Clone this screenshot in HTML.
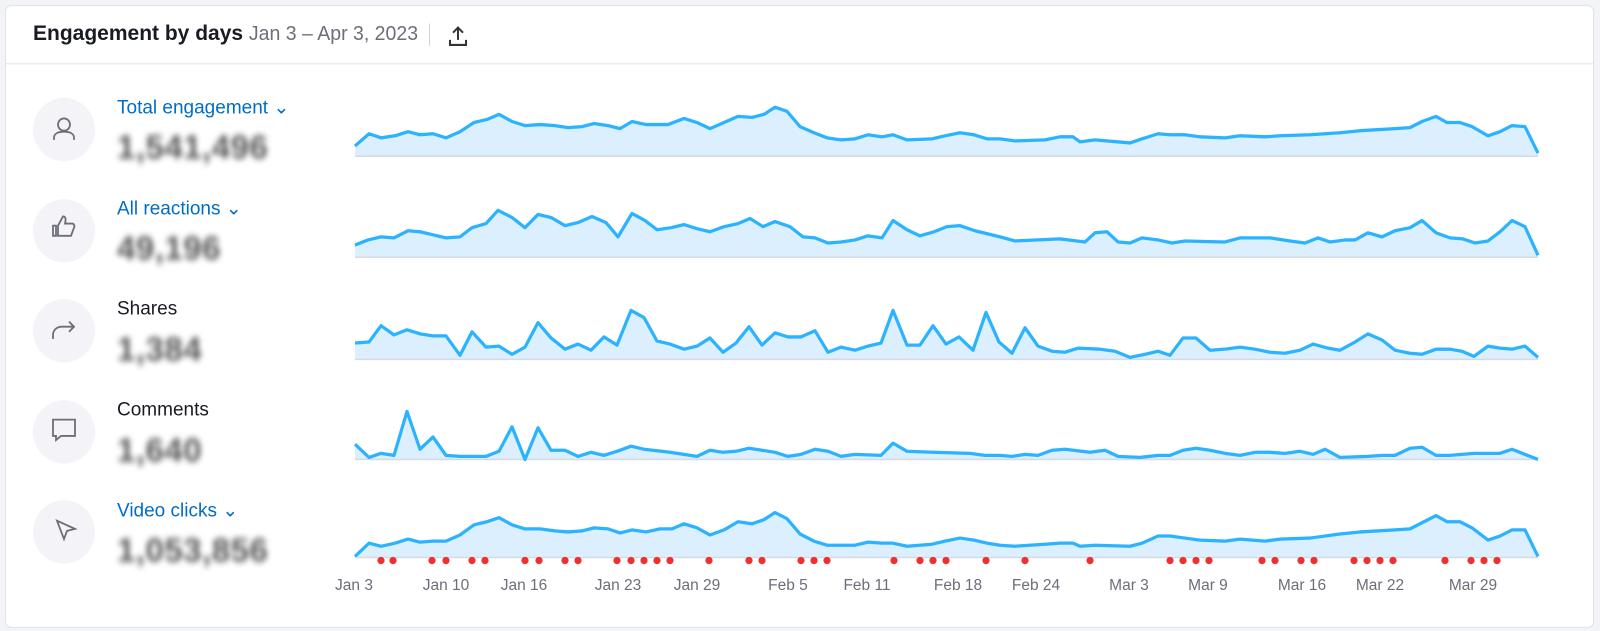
<!DOCTYPE html>
<html><head><meta charset="utf-8"><style>
body{margin:0;background:#f3f4f8;font-family:"Liberation Sans",sans-serif;overflow:hidden}
#w{position:absolute;left:0;top:0;width:1600px;height:618px;transform:scaleY(1.021);transform-origin:0 0}
.card{position:absolute;left:5px;top:5px;width:1587px;height:608px;background:#fff;border:1px solid #e0e1e9;border-radius:6px;}
.hdr{position:absolute;left:0;top:0;width:100%;height:56px;border-bottom:1px solid #e0e1e9;}
.title{position:absolute;left:27px;top:15px;font-size:21px;font-weight:bold;color:#191b23;white-space:nowrap}
.title span{font-weight:normal;color:#6c6e79;font-size:19.5px}
.sep{position:absolute;left:423px;top:17px;width:1px;height:22px;background:#d1d4db}
.circ{position:absolute;left:27px;width:62px;height:62px;border-radius:50%;background:#f4f4f8}
.lab{position:absolute;left:111px;font-size:19px;white-space:nowrap}
.blue{color:#006dca}
.num{position:absolute;left:111px;font-size:33px;font-weight:bold;color:#555;filter:blur(3px);white-space:nowrap;letter-spacing:0.5px}
svg{position:absolute;left:0;top:0}
.ax{font-size:15.5px;fill:#6c6e79}
</style></head><body><div id="w">
<div class="card">
<div class="hdr"><div class="title">Engagement by days <span>Jan 3 – Apr 3, 2023</span></div><div class="sep"></div>
<svg style="left:440px;top:18px" width="24" height="24" viewBox="0 0 24 24"><path d="M12 3v12M7 8l5-5 5 5M4 15v5h16v-5" fill="none" stroke="#333" stroke-width="2"/></svg></div>
<div class="circ" style="top:90px"></div><div class="circ" style="top:189px"></div><div class="circ" style="top:287px"></div><div class="circ" style="top:386px"></div><div class="circ" style="top:484px"></div>
<div class="lab blue" style="top:88px">Total engagement ⌄</div><div class="num" style="top:119px">1,541,496</div>
<div class="lab blue" style="top:187px">All reactions ⌄</div><div class="num" style="top:218px">49,196</div>
<div class="lab" style="top:286px;color:#191b23">Shares</div><div class="num" style="top:317px">1,384</div>
<div class="lab" style="top:385px;color:#191b23">Comments</div><div class="num" style="top:416px">1,640</div>
<div class="lab blue" style="top:483px">Video clicks ⌄</div><div class="num" style="top:514px">1,053,856</div>
</div>
<svg width="1600" height="618" id="s"></svg>
</div>
<script>
const S=[
[153,"355,143 369,131 381,135 395,133 408,129 420,132 433,131 446,135 460,129 474,120 487,117 499,112 512,119 525,123 540,122 555,123 568,125 582,124 594,121 608,123 620,126 632,119 646,122 668,122 684,116 697,120 710,126 724,120 738,114 752,115 764,112 775,105 787,109 800,124 814,130 827,135 841,137 855,136 868,132 882,134 893,132 907,137 932,136 945,133 960,130 974,132 987,136 1000,136 1015,138 1045,137 1060,134 1073,134 1080,139 1095,137 1130,140 1142,136 1158,131 1170,132 1185,132 1200,134 1225,135 1240,133 1265,134 1280,133 1310,132 1340,130 1360,128 1395,126 1410,125 1422,119 1436,114 1447,120 1460,120 1472,124 1488,133 1500,129 1512,123 1525,124 1538,150"],
[252,"355,240 368,235 381,232 394,233 408,226 420,227 433,230 446,233 460,232 472,223 486,219 498,206 512,213 525,223 538,210 551,213 565,221 578,218 592,212 606,218 618,232 632,209 645,216 657,225 671,223 684,220 697,224 710,227 724,222 738,219 750,214 763,222 775,217 790,222 803,232 815,233 828,238 841,237 855,235 868,231 882,233 893,216 907,225 920,231 934,227 947,222 960,221 975,226 1000,232 1015,236 1060,234 1085,237 1095,228 1107,227 1118,237 1130,238 1142,233 1158,235 1172,238 1185,236 1225,237 1240,233 1270,233 1290,236 1305,238 1318,233 1330,237 1345,235 1355,235 1368,228 1382,232 1395,226 1410,223 1422,216 1436,228 1450,233 1463,234 1475,238 1488,236 1500,227 1512,216 1525,222 1538,250"],
[352,"355,336 369,335 381,319 394,328 407,323 420,327 433,329 446,329 460,348 472,325 486,340 499,339 512,347 525,340 538,316 551,331 565,342 578,337 591,343 604,330 617,338 631,304 644,311 657,334 670,337 684,342 697,339 710,331 723,345 736,336 749,320 762,338 775,326 788,330 801,330 815,324 828,345 841,340 855,343 868,339 881,336 893,304 907,338 920,338 933,319 946,337 959,330 973,343 986,306 999,335 1012,346 1025,321 1038,339 1052,344 1065,345 1078,341 1100,342 1115,344 1130,350 1145,347 1158,344 1170,348 1183,331 1196,331 1210,343 1225,342 1240,340 1255,342 1270,345 1285,346 1300,343 1313,337 1328,341 1340,343 1355,335 1368,327 1382,333 1395,343 1410,346 1422,347 1436,342 1450,342 1462,344 1474,349 1488,339 1500,341 1512,342 1525,339 1538,350"],
[450,"355,435 369,448 381,444 394,446 407,403 420,440 433,428 446,446 460,447 486,447 499,442 512,418 525,450 538,419 551,441 565,441 578,447 591,443 604,446 617,442 631,437 644,440 670,443 697,447 710,441 723,443 736,442 749,439 762,441 775,443 788,447 801,445 815,440 828,442 841,447 855,445 881,446 893,434 907,442 933,443 970,444 985,446 1000,446 1012,447 1025,445 1038,446 1052,441 1065,440 1090,443 1105,441 1118,447 1140,448 1158,446 1170,446 1183,441 1196,439 1210,441 1225,444 1240,446 1255,443 1270,443 1285,444 1300,442 1313,445 1325,440 1340,448 1368,447 1382,446 1395,446 1410,439 1422,438 1436,446 1450,446 1474,444 1488,444 1500,444 1512,440 1538,450"],
[546,"355,545 369,532 381,535 395,532 408,528 420,531 433,530 446,530 460,524 474,514 487,511 499,507 512,514 525,518 540,518 555,520 568,521 582,520 594,517 608,518 620,522 632,519 646,521 660,518 672,518 684,513 697,517 710,524 724,519 738,511 752,513 764,509 775,502 787,508 800,523 814,530 827,534 841,534 855,534 868,531 882,532 893,532 907,535 932,533 945,530 960,527 974,529 987,532 1000,534 1015,535 1045,533 1060,532 1073,532 1080,535 1095,534 1130,535 1142,532 1158,525 1170,525 1185,527 1200,529 1225,530 1240,528 1265,530 1280,528 1310,527 1340,523 1360,521 1395,519 1410,518 1422,512 1436,505 1447,511 1460,511 1472,517 1488,529 1500,525 1512,519 1525,519 1538,545"]];
let h="";
S.forEach(([b,p])=>{h+=`<polygon points="355,${b} ${p} 1538,${b}" fill="#dbefff"/><line x1="355" x2="1538" y1="${b}" y2="${b}" stroke="#d6dbe3" stroke-width="1.5"/><polyline points="${p}" fill="none" stroke="#2bb3ff" stroke-width="3.2" stroke-linejoin="round"/>`;});
[381,393,432,446,472,485,525,539,565,578,617,631,644,657,670,709,749,762,801,814,827,894,920,933,946,986,1025,1090,1170,1183,1196,1209,1262,1275,1301,1314,1354,1367,1380,1393,1445,1471,1484,1497].forEach(x=>h+=`<circle cx="${x}" cy="549" r="3.6" fill="#f03030"/>`);
[["Jan 3",354],["Jan 10",446],["Jan 16",524],["Jan 23",618],["Jan 29",697],["Feb 5",788],["Feb 11",867],["Feb 18",958],["Feb 24",1036],["Mar 3",1129],["Mar 9",1208],["Mar 16",1302],["Mar 22",1380],["Mar 29",1473]].forEach(([t,x])=>h+=`<text class="ax" x="${x}" y="578" text-anchor="middle">${t}</text>`);
h+=`<g fill="none" stroke="#6c6e79" stroke-width="1.8"><circle cx="64" cy="122" r="6"/><path d="M54 137v-2c0-4 4-6 10-6s10 2 10 6v2"/><path d="M53 221v10h3v-10zM58 221l5-9c3 0 3 3 2 7h7c2 0 3 2 2 4l-3 8h-13z"/><path d="M53 332v-4c0-5 4-8 9-8h11M69 315l5 5-5 5"/><path d="M53 411h22v16h-14l-5 4v-4h-3z"/><path d="M57 510l18 8-8 2-3 8z"/></g>`;
document.getElementById("s").innerHTML=h;
</script>
</body></html>
